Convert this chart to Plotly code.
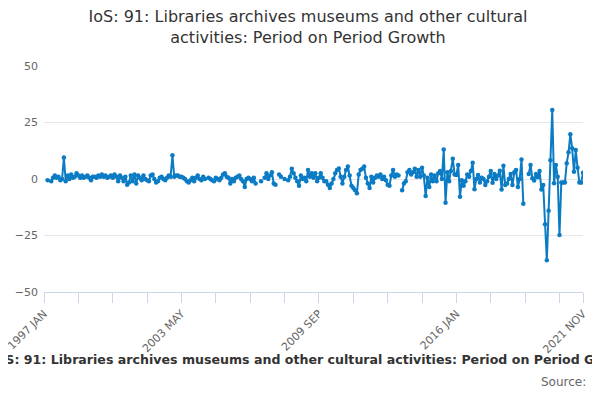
import plotly.graph_objects as go

# month categories, 1997 JAN to 2021 NOV
month_names = ["JAN", "FEB", "MAR", "APR", "MAY", "JUN",
               "JUL", "AUG", "SEP", "OCT", "NOV", "DEC"]
months = [f"{y} {m}" for y in range(1997, 2022) for m in month_names][:299]

# period on period growth (%), one list per year
g1997 = [None, None, -0.5, None, -1.0, 0.5, 1.5, 0.5, 1.0, -0.5, 0.0, 9.5]
g1998 = [-1.0, 1.5, 0.0, 2.0, 0.5, 1.0, 2.5, 1.5, 0.5, 1.5, 0.5, 1.0]
g1999 = [1.5, 0.5, -0.5, 1.0, 1.0, 0.5, 1.5, 1.0, 2.0, 1.0, 1.5, 0.5]
g2000 = [1.0, 1.5, 0.5, 2.0, 1.0, -1.0, 1.5, 0.5, -1.0, 1.0, -2.5, -1.5]
g2001 = [1.5, -1.0, 2.0, -2.0, 1.5, 0.5, -0.5, 1.5, 0.0, -0.5, -1.0, 1.5]
g2002 = [2.0, 0.0, -1.5, -1.0, 0.5, 1.0, 0.0, -0.5, 0.5, 1.5, 1.0, 10.5]
g2003 = [1.0, 1.5, 1.5, 1.0, 1.0, 0.5, 0.0, -1.0, -1.5, -0.5, 0.5, -1.0]
g2004 = [0.5, 1.5, 0.0, -0.5, 1.0, 0.0, None, 0.5, 0.0, -0.5, -1.0, 0.5]
g2005 = [0.0, -0.5, 0.5, 2.0, 2.5, 1.0, 0.5, -2.0, 0.0, -1.0, 0.5, 1.0]
g2006 = [1.5, 0.0, -1.0, -3.5, 0.0, 0.5, 0.0, -1.0, 0.5, -2.0, None, None]
g2007 = [-1.0, None, 0.5, 2.5, 0.0, 1.5, 3.0, -2.0, -2.5, None, 2.0, 1.0]
g2008 = [None, 0.0, None, -0.5, 1.0, 4.5, 2.5, 0.5, -1.0, -3.0, 1.5, 0.0]
g2009 = [0.5, -1.0, 4.0, 1.0, 2.5, 0.5, 2.5, -1.0, 0.5, 2.5, 0.5, -1.0]
g2010 = [-1.0, -2.5, -4.0, -2.0, 0.0, 2.5, 4.0, 4.7, 1.0, -2.0, 1.0, 4.0]
g2011 = [5.5, 1.5, -3.0, -4.0, -5.0, -6.3, 2.0, 4.0, 4.5, 5.5, 0.5, -2.0]
g2012 = [-4.0, 1.0, -1.5, 0.5, 1.5, 1.0, 2.0, 0.0, 1.0, -0.5, -2.5, -3.0]
g2013 = [1.5, 4.0, 1.0, 2.0, 1.5, None, -5.0, -2.0, -1.0, 3.0, 4.0, 2.0]
g2014 = [3.0, 4.5, 1.0, 4.0, 1.0, 5.0, 1.5, -7.5, 0.5, -3.5, 2.0, -1.0]
g2015 = [1.5, -1.0, 2.5, 3.5, 0.0, 13.0, -10.5, 3.0, -1.0, 3.5, 9.0, 2.0]
g2016 = [1.8, 6.2, -7.8, -0.5, -3.0, -1.0, 2.0, 1.0, 3.5, 7.2, -4.5, 0.0]
g2017 = [1.8, -1.5, 0.5, 0.0, -2.7, -1.0, 1.0, 3.5, -1.7, 2.2, 0.0, 1.5]
g2018 = [3.7, -4.6, 5.9, -2.7, -2.0, 0.0, 2.2, -2.7, 3.0, 4.0, -3.5, 0.0]
g2019 = [8.6, -11.0, None, None, 2.2, 6.2, 0.3, -0.7, 2.2, 0.8, 3.5, -4.6]
g2020 = [-2.7, -20.0, -36.0, -14.0, 8.3, 30.5, -1.9, 6.2, 1.0, -24.8, -1.6, -1.6]
g2021 = [-1.6, 7.0, 11.8, 19.8, 13.6, 3.2, 12.8, 5.0, -1.6, -1.6, 2.8]

growth = (g1997 + g1998 + g1999 + g2000 + g2001 + g2002 + g2003 + g2004
          + g2005 + g2006 + g2007 + g2008 + g2009 + g2010 + g2011 + g2012
          + g2013 + g2014 + g2015 + g2016 + g2017 + g2018 + g2019 + g2020
          + g2021)

title = "IoS: 91: Libraries archives museums and other cultural activities: Period on Period Growth"

# ticks every 19 months, labels on every 4th one, plus the last month
tick_idx = list(range(0, 298, 19)) + [298]
tick_vals = [months[i] for i in tick_idx]
tick_text = [months[i] if (i % 76 == 0 or i == 298) else "" for i in tick_idx]

fig = go.Figure()
fig.add_trace(go.Scatter(
    x = months,
    y = growth,
    mode = "lines+markers",
    line = dict(color = "#0b7bc4", width = 2),
    marker = dict(size = 4.5, color = "#0b7bc4"),
    connectgaps = False,
    showlegend = False
))

# the page body adds 8px, so margins are 8px smaller on the left and top
fig.update_layout(
    width = 600,
    height = 400,
    paper_bgcolor = "white",
    plot_bgcolor = "white",
    margin = dict(l = 36, r = 25, t = 58, b = 116),
    font = dict(family = "DejaVu Sans", color = "#666666", size = 11),
    title = dict(
        text = "IoS: 91: Libraries archives museums and other cultural<br>activities: Period on Period Growth",
        x = 0.5,
        xanchor = "center",
        y = 0.965,
        yanchor = "top",
        font = dict(size = 16, color = "#333333")
    ),
    xaxis = dict(
        type = "category",
        range = [0, 298],
        automargin = False,
        tickmode = "array",
        tickvals = tick_vals,
        ticktext = tick_text,
        tickangle = -45,
        ticks = "outside",
        ticklen = 10,
        tickcolor = "#ccd6eb",
        showline = True,
        linecolor = "#ccd6eb",
        showgrid = False,
        tickfont = dict(size = 11, color = "#666666")
    ),
    yaxis = dict(
        range = [-50, 50],
        automargin = False,
        tickvals = [-50, -25, 0, 25, 50],
        showgrid = True,
        gridcolor = "#e6e6e6",
        zeroline = False,
        ticklabelstandoff = 5,
        tickfont = dict(size = 11, color = "#666666")
    )
)

# caption and source under the chart
fig.add_annotation(
    text = "<b>" + title + "</b>",
    xref = "paper", yref = "paper",
    x = 0.5, y = -0.30,
    xanchor = "center", yanchor = "middle",
    showarrow = False,
    font = dict(size = 12.6, color = "#333333")
)
fig.add_annotation(
    text = "Source:",
    xref = "paper", yref = "paper",
    x = 1.0, y = -0.40, xshift = 5,
    xanchor = "right", yanchor = "middle",
    showarrow = False,
    font = dict(size = 12, color = "#666666")
)

fig.write_html("out.html")
